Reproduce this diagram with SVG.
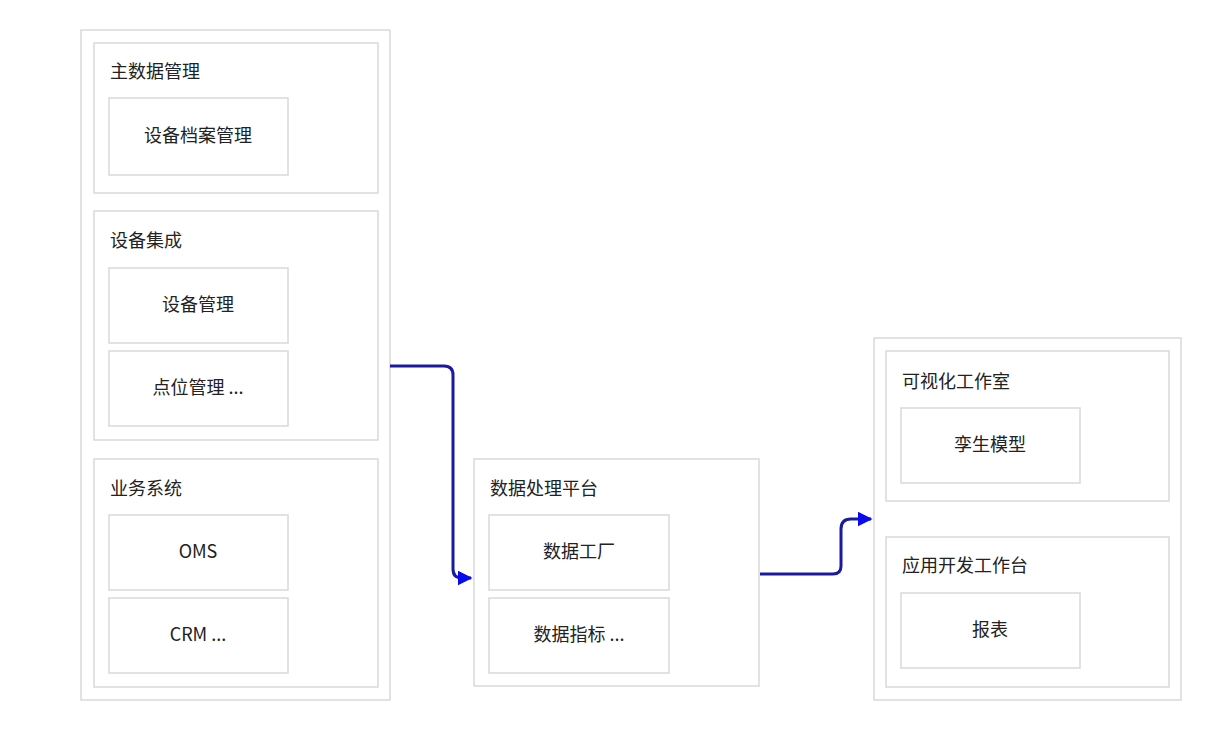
<svg xmlns="http://www.w3.org/2000/svg" width="1219" height="731" viewBox="0 0 1219 731">
<style>
rect{fill:#fff;stroke:#d9d9d9;stroke-width:1.5}
text{font-family:"Noto Sans CJK SC","Liberation Sans",sans-serif;font-size:18px;fill:#222}
.c{text-anchor:middle}
.ln{fill:none;stroke:#1a1aa0;stroke-width:3}
</style>
<defs><marker id="a" viewBox="0 0 10 10" refX="9" refY="5" markerWidth="5" markerHeight="5" orient="auto" markerUnits="strokeWidth"><path d="M0,0L10,5L0,10z" fill="#0a0aee"/></marker></defs>
<rect width="1219" height="731" style="stroke:none"/>
<g id="left"><rect x="81" y="30" width="309" height="670"/>
<g id="g1"><rect x="94" y="43" width="284" height="150"/><text x="110" y="78">主数据管理</text>
<rect x="109" y="98" width="179" height="77"/><text class="c" x="198" y="142">设备档案管理</text></g>
<g id="g2"><rect x="94" y="211" width="284" height="229"/><text x="110" y="247">设备集成</text>
<rect x="109" y="268" width="179" height="75"/><text class="c" x="198" y="311">设备管理</text>
<rect x="109" y="351" width="179" height="75"/><text class="c" x="198" y="394">点位管理 ...</text></g>
<g id="g3"><rect x="94" y="459" width="284" height="228"/><text x="110" y="495">业务系统</text>
<rect x="109" y="515" width="179" height="75"/><text class="c" x="198" y="558">OMS</text>
<rect x="109" y="598" width="179" height="75"/><text class="c" x="198" y="641">CRM ...</text></g></g>
<g id="mid"><rect x="474" y="459" width="285" height="227"/><text x="490" y="495">数据处理平台</text>
<rect x="489" y="515" width="180" height="75"/><text class="c" x="579" y="558">数据工厂</text>
<rect x="489" y="598" width="180" height="75"/><text class="c" x="579" y="641">数据指标 ...</text></g>
<g id="right"><rect x="874" y="338" width="307" height="362"/>
<g id="ga"><rect x="886" y="351" width="283" height="150"/><text x="902" y="388">可视化工作室</text>
<rect x="901" y="408" width="179" height="75"/><text class="c" x="990" y="451">孪生模型</text></g>
<g id="gb"><rect x="886" y="537" width="283" height="150"/><text x="902" y="572">应用开发工作台</text>
<rect x="901" y="593" width="179" height="75"/><text class="c" x="990" y="636">报表</text></g></g>
<g id="connectors">
<path class="ln" d="M390,366H444Q453,366 453,375V569Q453,578 462,578H471" marker-end="url(#a)"/>
<path class="ln" d="M760,574H833Q841,574 841,566V529Q841,519 851,519H871" marker-end="url(#a)"/>
</g>
</svg>
